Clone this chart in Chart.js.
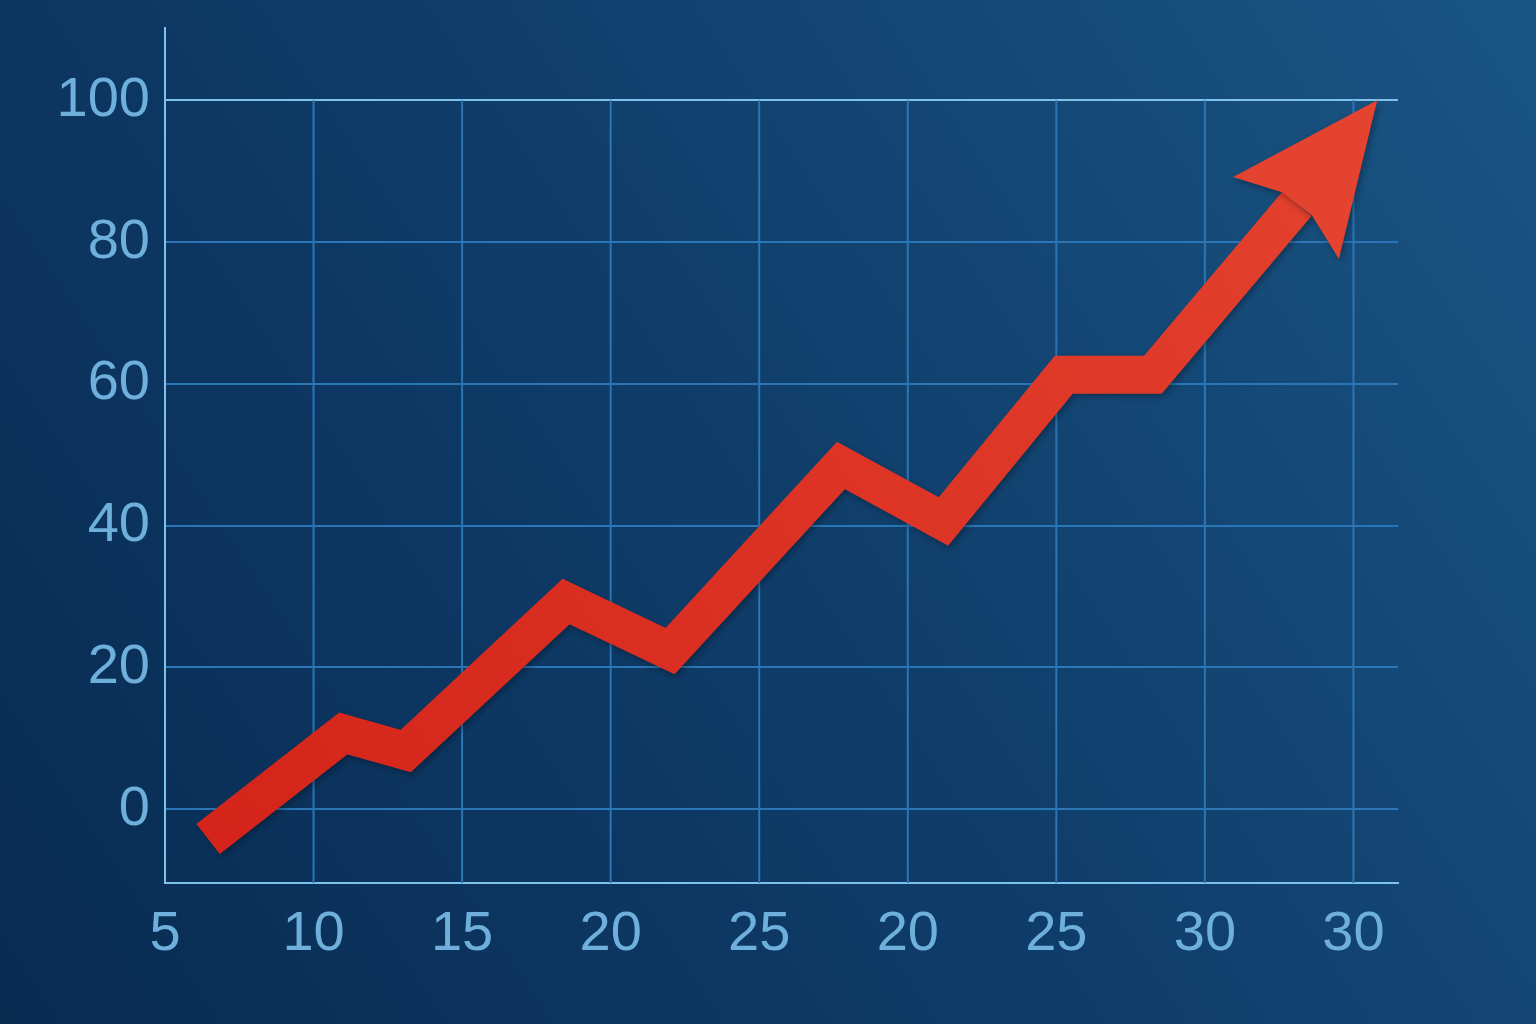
<!DOCTYPE html>
<html>
<head>
<meta charset="utf-8">
<script src="https://cdn.jsdelivr.net/npm/chart.js@4.4.0/dist/chart.umd.min.js"></script>
<style>
  html, body { margin: 0; padding: 0; background: #0d3a66; }
</style>
</head>
<body>
<canvas id="chart" width="1536" height="1024"></canvas>
<script>
// path of the red arrow (x = tick index, y = value)
const pathX = [0.29, 1.20, 1.62, 2.70, 3.40, 4.55, 5.24, 6.05, 6.65, 7.62];
const pathY = [-4.2, 10.7, 8.2, 29.3, 22.3, 48.5, 40.6, 61.3, 61.3, 85.4];
// arrow tip
const tipX = 8.16;
const tipY = 100;

// tick labels as printed on the chart
const xLabels = ['5', '10', '15', '20', '25', '20', '25', '30', '30'];
const yTicks = [0, 20, 40, 60, 80, 100];

const gridColor = '#2a76b6';
const axisColor = '#7ec2ec';
const labelColor = '#6eafdc';

const background = {
    id: 'background',
    beforeDraw(chart) {
        const ctx = chart.ctx;
        const g = ctx.createLinearGradient(0, chart.height, chart.width, 0);
        g.addColorStop(0, '#082b52');
        g.addColorStop(0.5, '#0f3d6a');
        g.addColorStop(1, '#1a5584');
        ctx.save();
        ctx.fillStyle = g;
        ctx.fillRect(0, 0, chart.width, chart.height);
        ctx.restore();
    }
};

// vertical grid lines stop at the 100 line
const verticalGrid = {
    id: 'verticalGrid',
    beforeDatasetsDraw(chart) {
        const { ctx, scales: { x, y } } = chart;
        const top = y.getPixelForValue(yTicks[yTicks.length - 1]);
        const bottom = y.getPixelForValue(y.min);
        ctx.save();
        ctx.strokeStyle = gridColor;
        ctx.lineWidth = 2;
        xLabels.forEach((_, i) => {
            if (i === 0) return;
            const px = x.getPixelForValue(i);
            ctx.beginPath();
            ctx.moveTo(px, top);
            ctx.lineTo(px, bottom);
            ctx.stroke();
        });
        ctx.restore();
    }
};

const shaftShadow = {
    id: 'shaftShadow',
    beforeDatasetDraw(chart) {
        const ctx = chart.ctx;
        ctx.save();
        ctx.shadowColor = 'rgba(0, 0, 0, 0.3)';
        ctx.shadowBlur = 6;
        ctx.shadowOffsetX = 2;
        ctx.shadowOffsetY = 3;
    },
    afterDatasetDraw(chart) {
        chart.ctx.restore();
    }
};

// arrow head from the end of the shaft to the tip
const arrowHead = {
    id: 'arrowHead',
    afterDatasetsDraw(chart) {
        const { ctx, scales: { x, y } } = chart;
        const last = pathX.length - 1;
        const bx = x.getPixelForValue(pathX[last]);
        const by = y.getPixelForValue(pathY[last]);
        const tx = x.getPixelForValue(tipX);
        const ty = y.getPixelForValue(tipY);
        const len = Math.hypot(tx - bx, ty - by);
        const ux = (tx - bx) / len, uy = (ty - by) / len;
        const nx = -uy, ny = ux;
        const half = 19;      // half of shaft width
        const barbHalf = 67;
        const barbBack = 18;

        const pts = [
            [tx, ty],
            [bx - ux * barbBack + nx * barbHalf, by - uy * barbBack + ny * barbHalf],
            [bx + nx * half, by + ny * half],
            [bx - nx * half, by - ny * half],
            [bx - ux * barbBack - nx * barbHalf, by - uy * barbBack - ny * barbHalf]
        ];
        ctx.save();
        ctx.shadowColor = 'rgba(0, 0, 0, 0.3)';
        ctx.shadowBlur = 6;
        ctx.shadowOffsetX = 2;
        ctx.shadowOffsetY = 3;
        ctx.fillStyle = '#e4432f';
        ctx.beginPath();
        pts.forEach((p, i) => i ? ctx.lineTo(p[0], p[1]) : ctx.moveTo(p[0], p[1]));
        ctx.closePath();
        ctx.fill();
        ctx.restore();
    }
};

function shaftColor(context) {
    const area = context.chart.chartArea;
    if (!area) return '#dc3322';
    const g = context.chart.ctx.createLinearGradient(area.left, area.bottom, area.right, area.top);
    g.addColorStop(0, '#d4231a');
    g.addColorStop(1, '#e4432f');
    return g;
}

new Chart(document.getElementById('chart'), {
    type: 'line',
    data: {
        datasets: [{
            data: pathX.map((v, i) => ({ x: v, y: pathY[i] })),
            borderColor: shaftColor,
            borderWidth: 38,
            borderJoinStyle: 'miter',
            borderCapStyle: 'butt',
            pointRadius: 0,
            tension: 0,
            fill: false
        }]
    },
    options: {
        responsive: false,
        devicePixelRatio: 1,
        animation: false,
        layout: { padding: { top: 28, right: 138, left: 0, bottom: 0 } },
        plugins: {
            legend: { display: false },
            tooltip: { enabled: false }
        },
        scales: {
            x: {
                type: 'linear',
                min: 0,
                max: 8.3,
                afterBuildTicks: (scale) => {
                    scale.ticks = xLabels.map((_, i) => ({ value: i }));
                },
                afterFit: (scale) => {
                    scale.height = 141;
                    scale.paddingLeft = 0;
                    scale.paddingRight = 0;
                },
                grid: { display: false, drawTicks: false },
                border: { display: true, color: axisColor, width: 2 },
                ticks: {
                    autoSkip: false,
                    maxRotation: 0,
                    padding: 18,
                    color: labelColor,
                    font: { family: 'Liberation Sans', size: 56 },
                    callback: (value, index) => xLabels[index]
                }
            },
            y: {
                min: -10.4,
                max: 110.2,
                afterBuildTicks: (scale) => {
                    scale.ticks = yTicks.map(v => ({ value: v }));
                },
                afterFit: (scale) => {
                    scale.width = 165;
                    scale.paddingTop = 0;
                    scale.paddingBottom = 0;
                },
                grid: {
                    drawTicks: false,
                    lineWidth: 2,
                    color: (ctx) => ctx.tick && ctx.tick.value === 100 ? axisColor : gridColor
                },
                border: { display: true, color: axisColor, width: 2 },
                ticks: {
                    padding: 15,
                    color: labelColor,
                    font: { family: 'Liberation Sans', size: 56 }
                }
            }
        }
    },
    plugins: [background, verticalGrid, shaftShadow, arrowHead]
});
</script>
</body>
</html>
